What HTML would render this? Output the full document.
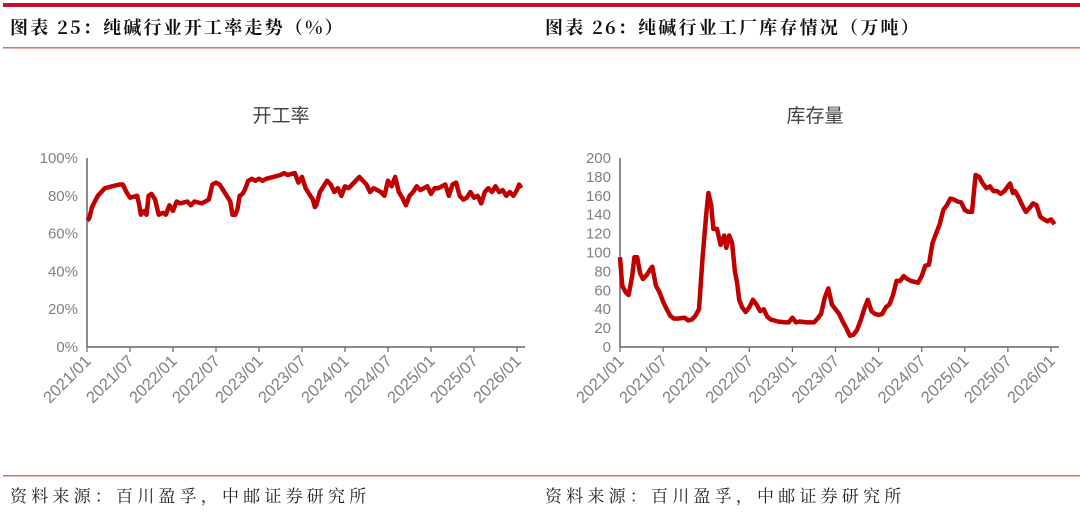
<!DOCTYPE html>
<html><head><meta charset="utf-8"><style>
body{margin:0;width:1080px;height:525px;background:#fff;overflow:hidden;font-family:"Liberation Sans","Noto Sans CJK SC",sans-serif}
svg{position:absolute;left:0;top:0}
</style></head><body>
<svg width="1080" height="525">
<rect x="3" y="3" width="1077" height="4" fill="#c8102e"/>
<rect x="3" y="47" width="1077" height="1.5" fill="#e06a6a"/>
<rect x="3" y="475" width="1077" height="1.5" fill="#e06a6a"/>
<text x="10" y="34" font-size="18" font-weight="bold" letter-spacing="2.2" fill="#111" font-family="'Noto Serif CJK SC',serif">图表 25：纯碱行业开工率走势（%）</text>
<text x="545" y="34" font-size="18" font-weight="bold" letter-spacing="2.2" fill="#111" font-family="'Noto Serif CJK SC',serif">图表 26：纯碱行业工厂库存情况（万吨）</text>
<text x="10" y="502" font-size="17" letter-spacing="4.2" fill="#222" font-family="'Noto Serif CJK SC',serif">资料来源：百川盈孚，中邮证券研究所</text>
<text x="545" y="502" font-size="17" letter-spacing="4.2" fill="#222" font-family="'Noto Serif CJK SC',serif">资料来源：百川盈孚，中邮证券研究所</text>
<text x="281" y="122" font-size="19" fill="#444" text-anchor="middle">开工率</text>
<text x="815" y="122" font-size="19" fill="#444" text-anchor="middle">库存量</text>
<g id="c1"></g><g id="c2"></g>
</svg>
<script>
const xTickLabels=["2021/01","2021/07","2022/01","2022/07","2023/01","2023/07","2024/01","2024/07","2025/01","2025/07","2026/01"];
const xTickMonths=[0,6,12,18,24,30,36,42,48,54,60];
const rateMonths=[0,0.3,0.7,1.5,2.5,3.5,4.5,5,5.5,6,7,7.3,7.5,8,8.3,8.6,9,9.5,10,10.6,11,11.5,12,12.5,13,14,14.5,15,16,16.5,17,17.5,18,18.5,19,19.5,20,20.3,20.7,21,21.3,21.7,22,22.5,23,23.5,24,24.5,25,26,27,27.5,28,29,29.5,30,30.5,31,31.5,31.8,32,32.5,33,33.5,34,34.5,35,35.5,36,36.5,37,37.5,38,38.5,39,39.5,40,41,41.5,42,42.5,43,43.5,44,44.5,45,45.5,46,46.5,47,47.5,48,48.5,49,50,50.5,51,51.5,52,52.5,53,53.5,54,54.5,55,55.5,56,56.5,57,57.5,58,58.5,59,59.5,60,60.3,60.6];
const rateValues=[67,68,74,80,84,85,86,86,82,79,80,75,70,72,70,80,81,78,70,71,70,75,72,77,76,77,75,77,76,77,78,86,87,86,83,80,77,70,70,73,80,81,83,88,89,88,89,88,89,90,91,92,91,92,87,90,84,81,78,74,75,82,85,88,86,82,84,80,85,84,86,88,90,88,86,82,84,82,80,88,85,90,82,79,75,80,82,85,83,84,85,81,84,84,86,80,86,87,80,78,79,82,79,80,76,82,84,82,85,82,83,80,82,80,83,86,84];
const rateTicks=[0,20,40,60,80,100];
const invMonths=[0,0.3,0.8,1.2,1.7,2,2.4,2.8,3.2,3.7,4.2,4.5,5,5.5,6,6.5,7,7.5,8,9,9.5,10,10.5,11,11.5,12,12.3,12.7,13,13.5,14,14.5,14.8,15.2,15.6,16,16.3,16.6,17,17.5,18,18.5,19,19.5,20,20.5,21,22,23,23.5,24,24.5,25,26,27,27.5,28,28.5,29,29.5,30,30.5,31,31.5,32,32.5,33,33.5,34,34.5,35,35.5,36,36.5,37,37.5,38,38.5,39,39.5,40,40.5,41,41.5,42,42.5,43,43.5,44,44.5,45,45.5,46,46.5,47,47.5,48,48.5,49,49.5,50,50.5,51,51.5,52,52.5,53,53.5,54,54.3,54.7,55,55.5,56,56.5,57,57.5,58,58.5,59,59.5,60,60.5];
const invValues=[95,65,58,55,75,95,95,78,72,76,82,85,65,58,48,40,33,30,30,31,28,29,33,40,95,140,163,150,125,125,108,118,105,118,110,80,68,50,42,37,42,50,45,38,40,32,29,27,26,26,31,26,27,26,26,30,35,52,62,45,40,35,27,20,12,13,18,28,40,50,38,35,34,35,42,45,55,70,70,75,72,70,69,68,75,86,87,110,120,130,145,150,157,156,154,153,145,143,143,182,180,173,168,170,165,165,162,165,170,173,163,165,158,150,143,147,152,150,138,135,133,135,130];
const invTicks=[0,20,40,60,80,100,120,140,160,180,200];
const NS='http://www.w3.org/2000/svg';
function mk(tag,attrs,parent){const e=document.createElementNS(NS,tag);for(const k in attrs)e.setAttribute(k,attrs[k]);parent.appendChild(e);return e;}
function chart(g,x0,x60,xEnd,y0,yTop,yMax,ticks,fmt,months,vals){
  const X=m=>x0+(x60-x0)*m/60, Y=v=>y0-(y0-yTop)*v/yMax;
  ticks.forEach(t=>{const tx=mk('text',{x:x0-9,y:Y(t)+5,'font-size':15,fill:'#808080','text-anchor':'end'},g);tx.textContent=fmt(t);
    
    });
  const ya=mk('line',{x1:x0,y1:yTop,x2:x0,y2:y0,stroke:'#666','stroke-width':1.5},g);
  
  
  const xa=mk('line',{x1:x0,y1:y0,x2:xEnd,y2:y0,stroke:'#666','stroke-width':1.5},g);
  
  
  xTickMonths.forEach((m,i)=>{const x=X(m);
    const tk=mk('line',{x1:x,y1:y0,x2:x,y2:y0+5,stroke:'#666','stroke-width':1.2},g);
    
    
    const tx=mk('text',{x:x+5,y:y0+15,'font-size':16.5,fill:'#808080','text-anchor':'end',transform:`rotate(-45 ${x+5} ${y0+15})`},g);
    tx.textContent=xTickLabels[i];
    
    });
  const d=months.map((m,i)=>(i?'L':'M')+X(m).toFixed(1)+','+Y(vals[i]).toFixed(1)).join('');
  const p=mk('path',{d:d,fill:'none',stroke:'#c00000','stroke-width':4.5,'stroke-linejoin':'round'},g);
  
  
}
chart(document.getElementById('c1'),87,517,525,347,158,100,rateTicks,t=>t+'%',rateMonths,rateValues);
chart(document.getElementById('c2'),620,1051,1059,347,158,200,invTicks,t=>''+t,invMonths,invValues);
</script>
</body></html>
